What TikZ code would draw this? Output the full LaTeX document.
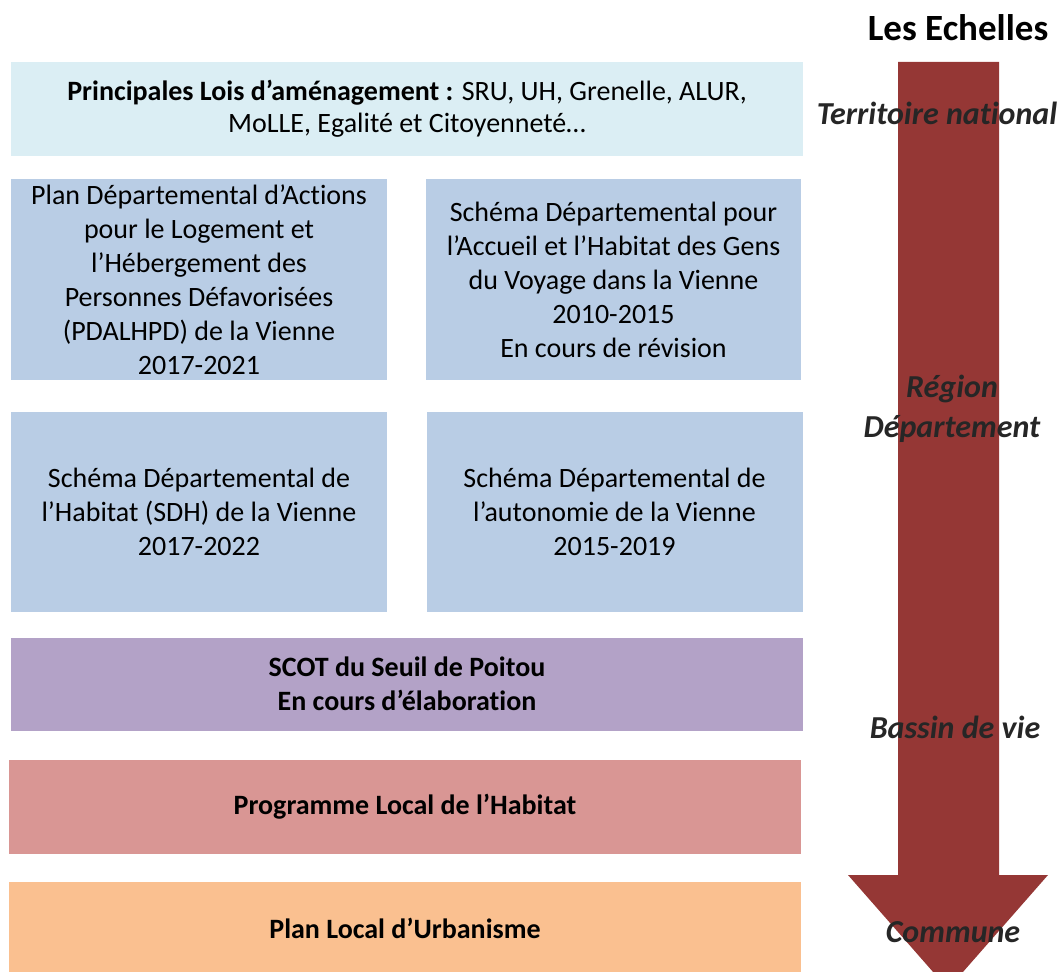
\documentclass[tikz,border=0pt]{standalone}
\usepackage{fontspec}
\setmainfont{Carlito}[Ligatures=NoCommon]
\definecolor{loisc}{HTML}{DBEEF4}
\definecolor{bluec}{HTML}{B9CDE5}
\definecolor{purc}{HTML}{B3A2C7}
\definecolor{plhc}{HTML}{D99694}
\definecolor{pluc}{HTML}{FAC090}
\definecolor{arrc}{HTML}{953735}
\definecolor{labc}{HTML}{262626}
\tikzset{
  box/.style={rectangle, inner sep=0pt, align=center, text=black,
    font=\fontsize{28}{34}\selectfont},
  wide/.style={box, minimum width=792pt},
  half/.style={box, minimum width=376pt, minimum height=201pt},
  scale label/.style={align=center, text=labc, inner sep=0pt,
    font=\fontsize{32}{40}\selectfont\bfseries\itshape},
}
\begin{document}
\begin{tikzpicture}[x=1pt,y=-1pt]
\useasboundingbox (0,0) rectangle (1064,971);
\clip (0,0) rectangle (1064,971);
% boxes
\node[wide, fill=loisc, minimum height=94pt, font=\fontsize{28}{32}\selectfont] (lois) at (407,109)
  {\textbf{Principales Lois d’aménagement :} SRU, UH, Grenelle, ALUR,\\ MoLLE, Egalité et Citoyenneté…};
\node[half, fill=bluec] (pdal) at (199,279.5)
  {Plan Départemental d’Actions\\ pour le Logement et\\ l’Hébergement des\\ Personnes Défavorisées\\ (PDALHPD) de la Vienne\\ 2017-2021};
\node[half, fill=bluec, minimum width=375pt] (accueil) at (613.5,279.5)
  {Schéma Départemental pour\\ l’Accueil et l’Habitat des Gens\\ du Voyage dans la Vienne\\ 2010-2015\\ En cours de révision};
\node[half, fill=bluec, minimum height=200pt] (sdh) at (199,512)
  {Schéma Départemental de\\ l’Habitat (SDH) de la Vienne\\ 2017-2022};
\node[half, fill=bluec, minimum height=200pt] (auto) at (614.5,512)
  {Schéma Départemental de\\ l’autonomie de la Vienne\\ 2015-2019};
\node[wide, fill=purc, minimum height=93pt, font=\fontsize{28}{34}\selectfont\bfseries] (scot) at (407,684)
  {SCOT du Seuil de Poitou\\ En cours d’élaboration};
\node[wide, fill=plhc, minimum height=94pt, font=\fontsize{28}{34}\selectfont\bfseries] (plh) at (405,807)
  {Programme Local de l’Habitat};
\node[wide, fill=pluc, minimum height=92pt, font=\fontsize{28}{34}\selectfont\bfseries] (plu) at (405,928)
  {Plan Local d’Urbanisme};
% arrow
\fill[arrc] (898,62) -- (999,62) -- (999,875) -- (1048,875) -- (948,989)
  -- (848,875) -- (898,875) -- cycle;
% labels
\node[font=\fontsize{37}{44}\selectfont\bfseries, inner sep=0pt] (title) at (958,28) {Les Echelles};
\node[scale label] (nat) at (937,113) {Territoire national};
\node[scale label] (reg) at (952,409) {Région\\ Département};
\node[scale label] (bas) at (955,727) {Bassin de vie};
\node[scale label] (com) at (953,932) {Commune};
\end{tikzpicture}
\end{document}
